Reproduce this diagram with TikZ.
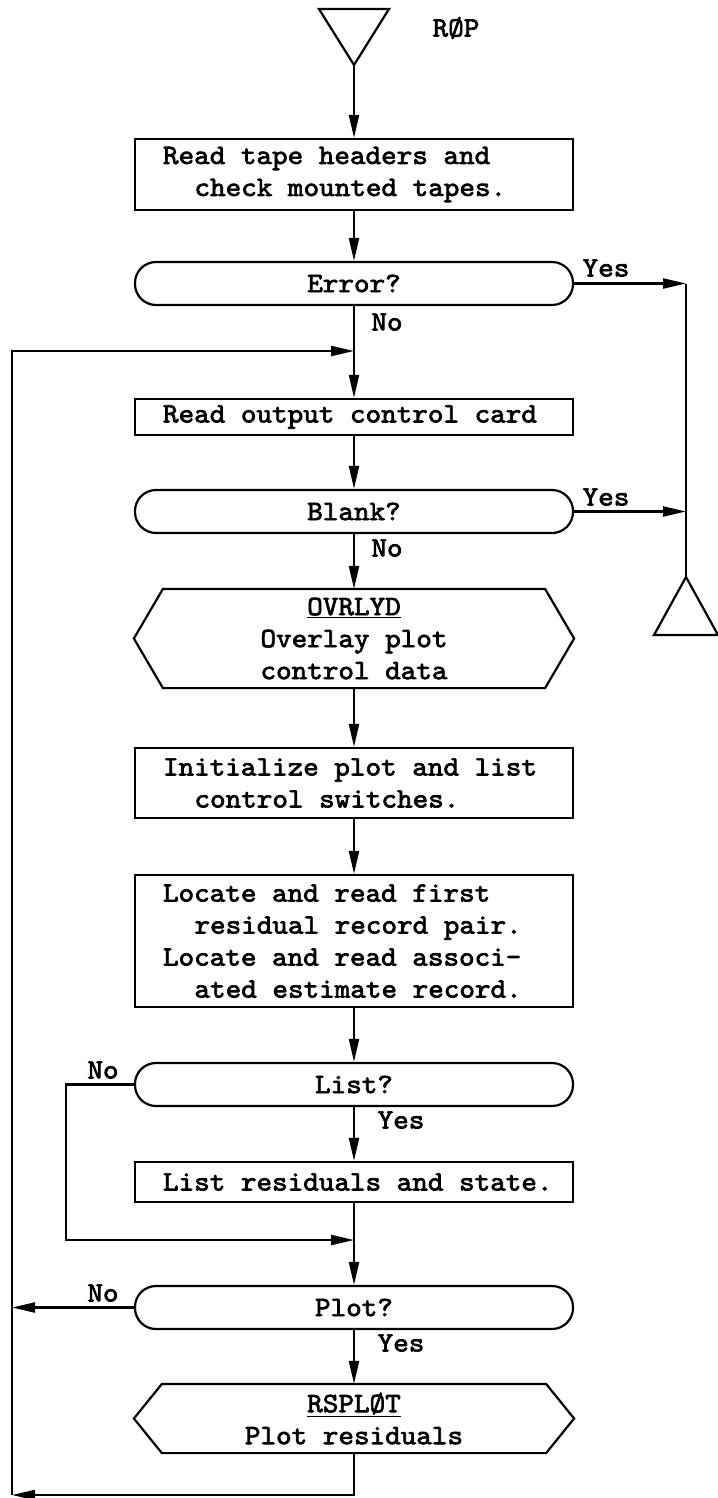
\documentclass[tikz,border=0pt]{standalone}
\usepackage{fontspec}
\newfontfamily\tw[FakeStretch=1.06,FakeBold=2.5]{lmmono10-regular.otf}
\newcommand\twfont{\tw\fontsize{28pt}{32pt}\selectfont\spaceskip=\fontcharwd\font`x\relax\xspaceskip=\spaceskip}
\usetikzlibrary{arrows.meta}
\begin{document}
\begin{tikzpicture}[x=1pt,y=-1pt,line width=2.2pt,
  font=\twfont,
  >={Triangle[length=23pt,width=10pt]},
  procbox/.style={draw,rectangle,minimum width=438pt,text width=382pt,inner xsep=28pt,inner ysep=0pt,align=flush left},
  decision/.style={draw,rectangle,rounded corners=21pt,minimum width=438pt,minimum height=43pt,inner sep=0pt},
  hexnode/.style={rectangle,minimum width=438pt,inner sep=0pt,align=center},
  lbl/.style={inner sep=0pt}]
\useasboundingbox (0,0) rectangle (717,1498);
% start terminal
\coordinate (s) at (354,65);
\draw (319,9) -- (389,9) -- (s) -- cycle;
\node[lbl] (rop) at (456,28) {RØP};
% nodes
\node[procbox,minimum height=71pt] (b1) at (354,174.5) {Read tape headers and\\\hspace*{31.5pt}check mounted tapes.};
\node[decision] (err) at (354,283.5) {Error?};
\node[procbox,minimum height=36pt] (ro) at (354,417) {Read output control card};
\node[decision] (bl) at (354,511.5) {Blank?};
\node[hexnode,minimum height=97pt] (ov) at (354,638.5) {\underline{OVRLYD}\\Overlay plot\\control data};
\draw ([xshift=29pt]ov.north west) -- ([xshift=-29pt]ov.north east) -- (ov.east) -- ([xshift=-29pt]ov.south east) -- ([xshift=29pt]ov.south west) -- (ov.west) -- cycle;
\node[procbox,minimum height=70pt] (ini) at (354,783) {Initialize plot and list\\\hspace*{31.5pt}control switches.};
\node[procbox,minimum height=132pt] (loc) at (354,941) {Locate and read first\\\hspace*{31.5pt}residual record pair.\\Locate and read associ-\\\hspace*{31.5pt}ated estimate record.};
\node[decision] (lst) at (354,1084.5) {List?};
\node[procbox,minimum height=40pt] (lr) at (354,1182) {\makebox[382pt][l]{List residuals and state.}};
\node[decision] (plt) at (354,1307.5) {Plot?};
\node[hexnode,minimum height=67pt] (rs) at (354,1418.5) {\underline{RSPLØT}\\Plot residuals};
\draw ([xshift=28pt]rs.north west) -- ([xshift=-28pt]rs.north east) -- (rs.east) -- ([xshift=-28pt]rs.south east) -- ([xshift=28pt]rs.south west) -- (rs.west) -- cycle;
% labels
\node[lbl] (y1) at (606,268) {Yes};
\node[lbl] (n1) at (387,322) {No};
\node[lbl] (y2) at (606,497) {Yes};
\node[lbl] (n2) at (387,548) {No};
\node[lbl] (n3) at (103,1070) {No};
\node[lbl] (y3) at (401,1120) {Yes};
\node[lbl] (n4) at (103,1293) {No};
\node[lbl] (y4) at (401,1343) {Yes};
% coordinates
\coordinate (cr) at (686,283.5);
\coordinate (t2) at (686,577);
\coordinate (j1) at (354,351);
\coordinate (lt) at (12,351);
\coordinate (ln) at (66,1240);
\coordinate (j2) at (354,1240);
\coordinate (bl2) at (12,1495);
% exit terminal
\draw (t2) -- (654,635) -- (718,635) -- cycle;
% connectors
\draw[->] (s) -- (b1);
\draw[->] (b1) -- (err);
\draw[->] (err) -- (ro);
\draw[->] (err.east) -- (cr);
\draw (cr) -- (t2);
\draw[->] (ro) -- (bl);
\draw[->] (bl.east) -- (bl.east -| t2);
\draw[->] (bl) -- (ov);
\draw[->] (ov) -- (ini);
\draw[->] (ini) -- (loc);
\draw[->] (loc) -- (lst);
\draw[->] (lst) -- (lr);
\draw[->] (lst.west) -| (ln) -- (j2);
\draw[->] (lr) -- (plt);
\draw[->] (plt) -- (rs);
\draw[->] (plt.west) -- (plt.west -| lt);
\draw[->] (rs.south) |- (bl2);
\draw[->] (bl2) -- (lt) -- (j1);
\end{tikzpicture}
\end{document}
